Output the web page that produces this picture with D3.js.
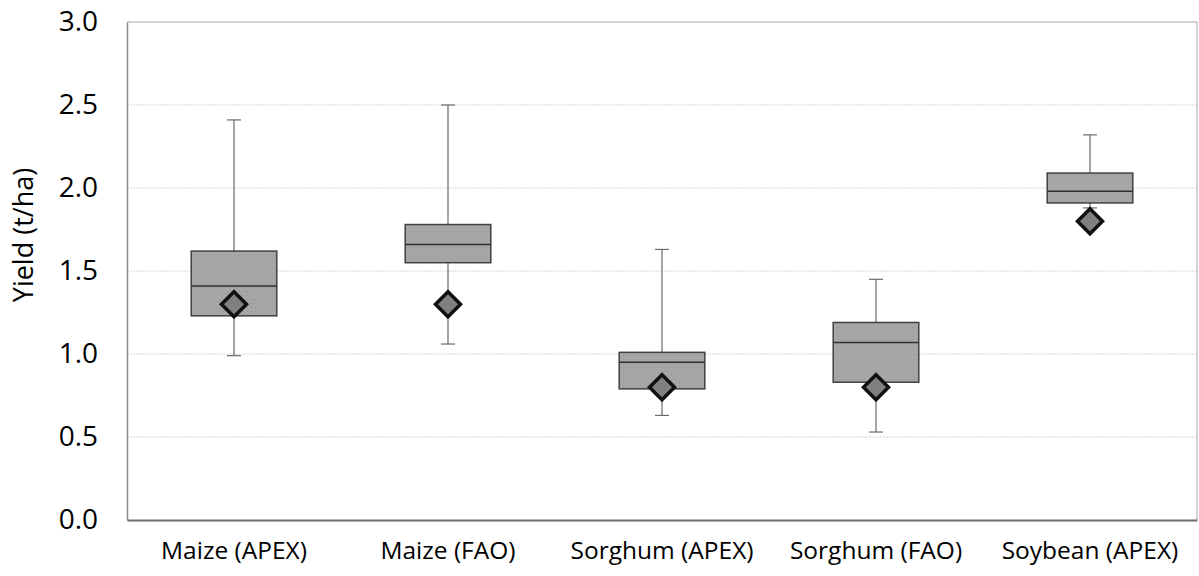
<!DOCTYPE html>
<html>
<head>
<meta charset="utf-8">
<script src="https://cdn.jsdelivr.net/npm/d3@7"></script>
<style>
  html, body { margin: 0; padding: 0; background: #fff; }
  svg { display: block; }
  svg text { font-family: "Open Sans", "Noto Sans", sans-serif; }
</style>
</head>
<body>
<svg id="chart" width="1199" height="576"></svg>
<script>
// Yield distributions per crop and source (t/ha)
const categories = ["Maize (APEX)", "Maize (FAO)", "Sorghum (APEX)", "Sorghum (FAO)", "Soybean (APEX)"];
const whiskerMin = [0.99, 1.06, 0.63, 0.53, 1.88];
const q1         = [1.23, 1.55, 0.79, 0.83, 1.91];
const median     = [1.41, 1.66, 0.95, 1.07, 1.98];
const q3         = [1.62, 1.78, 1.01, 1.19, 2.09];
const whiskerMax = [2.41, 2.50, 1.63, 1.45, 2.32];
const observed   = [1.30, 1.30, 0.80, 0.80, 1.80];
const yTicks = [0, 0.5, 1.0, 1.5, 2.0, 2.5, 3.0];

const svg = d3.select("#chart");
const margin = { left: 127, right: 2, top: 22, bottom: 56 };
const W = 1199, H = 576;
const innerW = W - margin.left - margin.right;
const innerH = H - margin.top - margin.bottom;
const FONT = '"Open Sans", "Noto Sans", sans-serif';

const x = d3.scaleBand().domain(categories).range([0, innerW]).paddingInner(0).paddingOuter(0);
const y = d3.scaleLinear().domain([0, 3]).range([innerH, 0]);

// subtle dotted texture for the box fill
const defs = svg.append("defs");
const pat = defs.append("pattern")
  .attr("id", "boxFill").attr("patternUnits", "userSpaceOnUse")
  .attr("width", 4).attr("height", 4);
pat.append("rect").attr("width", 4).attr("height", 4).attr("fill", "#a6a6a6");
pat.append("rect").attr("x", 1).attr("y", 1).attr("width", 1).attr("height", 1).attr("fill", "#979797");

const g = svg.append("g").attr("transform", `translate(${margin.left},${margin.top})`);

// horizontal gridlines
g.append("g").selectAll("line")
  .data(yTicks.filter(t => t > 0 && t < 3))
  .join("line")
  .attr("x1", 0).attr("x2", innerW)
  .attr("y1", d => y(d)).attr("y2", d => y(d))
  .attr("stroke", "#d4d4d4").attr("stroke-width", 1)
  .attr("stroke-dasharray", "2,1");

// plot frame (top and right)
g.append("line").attr("x1", 0).attr("x2", innerW).attr("y1", y(3)).attr("y2", y(3))
  .attr("stroke", "#a6a6a6").attr("stroke-width", 1);
g.append("line").attr("x1", innerW).attr("x2", innerW).attr("y1", 0).attr("y2", innerH)
  .attr("stroke", "#a6a6a6").attr("stroke-width", 1);

// y axis
const yAxis = g.append("g")
  .call(d3.axisLeft(y).tickValues(yTicks).tickFormat(d3.format(".1f")).tickSize(0).tickPadding(29))
  .attr("font-family", FONT).attr("font-size", 28);
yAxis.select(".domain").attr("stroke", "#8c8c8c").attr("stroke-width", 1.5);
yAxis.selectAll("text").attr("fill", "#000");

// x axis
const xAxis = g.append("g").attr("transform", `translate(0,${innerH})`)
  .call(d3.axisBottom(x).tickSize(0).tickPadding(22))
  .attr("font-family", FONT).attr("font-size", 24.5);
xAxis.select(".domain").attr("stroke", "#6e6e6e").attr("stroke-width", 2);
xAxis.selectAll("text").attr("fill", "#000");

// y axis title
svg.append("text")
  .attr("transform", "translate(24,235) rotate(-90)")
  .attr("text-anchor", "middle")
  .attr("dy", "0.35em")
  .attr("font-family", FONT)
  .attr("font-size", 27)
  .attr("fill", "#000")
  .text("Yield (t/ha)");

const data = categories.map((c, i) => ({
  c, lo: whiskerMin[i], q1: q1[i], med: median[i], q3: q3[i], hi: whiskerMax[i], obs: observed[i]
}));
const boxW = x.bandwidth() * 0.4;
const capW = 14;

const boxes = g.append("g").selectAll("g").data(data).join("g")
  .attr("transform", d => `translate(${x(d.c) + x.bandwidth() / 2},0)`);

// whiskers
boxes.append("line").attr("x1", 0).attr("x2", 0)
  .attr("y1", d => y(d.hi)).attr("y2", d => y(d.lo))
  .attr("stroke", "#6a6a6a").attr("stroke-width", 1.2);
boxes.append("line").attr("x1", -capW / 2).attr("x2", capW / 2)
  .attr("y1", d => y(d.hi)).attr("y2", d => y(d.hi))
  .attr("stroke", "#6a6a6a").attr("stroke-width", 1.2);
boxes.append("line").attr("x1", -capW / 2).attr("x2", capW / 2)
  .attr("y1", d => y(d.lo)).attr("y2", d => y(d.lo))
  .attr("stroke", "#6a6a6a").attr("stroke-width", 1.2);

// interquartile boxes
boxes.append("rect")
  .attr("x", -boxW / 2).attr("width", boxW)
  .attr("y", d => y(d.q3)).attr("height", d => y(d.q1) - y(d.q3))
  .attr("fill", "url(#boxFill)").attr("stroke", "#404040").attr("stroke-width", 1.5);

// medians
boxes.append("line").attr("x1", -boxW / 2).attr("x2", boxW / 2)
  .attr("y1", d => y(d.med)).attr("y2", d => y(d.med))
  .attr("stroke", "#303030").attr("stroke-width", 1.5);

// observed yield markers
const r = 12.5;
boxes.append("path")
  .attr("d", d => `M0,${y(d.obs) - r}L${r},${y(d.obs)}L0,${y(d.obs) + r}L${-r},${y(d.obs)}Z`)
  .attr("fill", "#808080").attr("stroke", "#111").attr("stroke-width", 3.5)
  .attr("stroke-linejoin", "miter");
</script>
</body>
</html>
